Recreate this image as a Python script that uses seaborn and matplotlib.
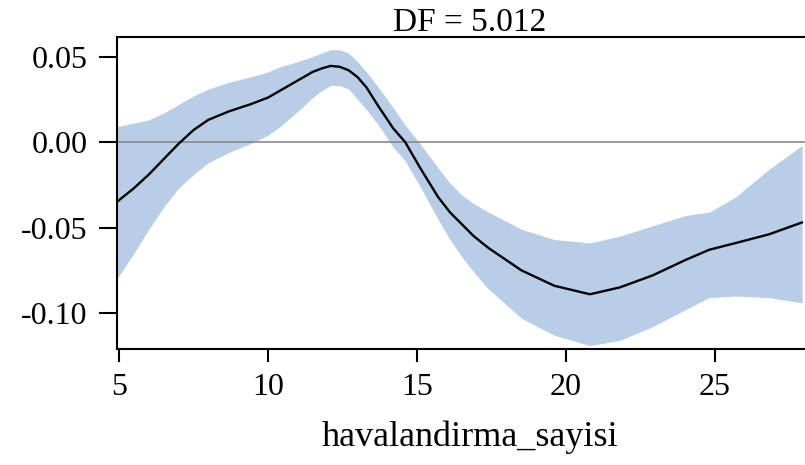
import numpy as np
import pandas as pd
import seaborn as sns
import matplotlib
matplotlib.use("Agg")
import matplotlib.pyplot as plt

# Data
x_vals = [4.93, 5.5, 6.0, 6.5, 7.0, 7.5, 8.0, 8.7, 9.4, 10.0, 10.4, 11.0, 11.5,
          11.8, 12.1, 12.4, 12.7, 13.0, 13.3, 13.7, 14.2, 14.6, 15.1, 15.7,
          16.1, 16.5, 16.9, 17.4, 18.5, 19.6, 20.8, 21.8, 22.9, 24.0, 24.8,
          25.7, 26.8, 27.92]
effect = [-0.035, -0.027, -0.019, -0.010, -0.001, 0.007, 0.013, 0.018, 0.022,
          0.026, 0.030, 0.036, 0.041, 0.043, 0.0445, 0.044, 0.042, 0.038,
          0.032, 0.021, 0.008, 0.000, -0.015, -0.032, -0.041, -0.048, -0.055,
          -0.062, -0.075, -0.084, -0.089, -0.085, -0.078, -0.069, -0.063,
          -0.059, -0.054, -0.047]
upper = [0.009, 0.011, 0.013, 0.017, 0.022, 0.027, 0.031, 0.035, 0.038, 0.041,
         0.044, 0.047, 0.050, 0.052, 0.054, 0.054, 0.052, 0.047, 0.041, 0.032,
         0.020, 0.010, -0.001, -0.015, -0.024, -0.031, -0.036, -0.041, -0.051,
         -0.057, -0.059, -0.055, -0.049, -0.043, -0.041, -0.032, -0.016, -0.002]
lower = [-0.080, -0.065, -0.051, -0.038, -0.027, -0.019, -0.012, -0.006,
         -0.001, 0.004, 0.009, 0.018, 0.026, 0.030, 0.033, 0.033, 0.031, 0.025,
         0.019, 0.010, -0.003, -0.011, -0.026, -0.045, -0.057, -0.067, -0.076,
         -0.086, -0.103, -0.113, -0.119, -0.116, -0.108, -0.098, -0.091,
         -0.090, -0.091, -0.094]
x_ticks = [5, 10, 15, 20, 25]
y_ticks = [-0.10, -0.05, 0.00, 0.05]
y_tick_labels = ["-0.10", "-0.05", "0.00", "0.05"]
title_text = "DF = 5.012"
x_label = "havalandirma_sayisi"

df = pd.DataFrame({"x": x_vals, "effect": effect, "upper": upper, "lower": lower})

sns.set_theme(style="white")
plt.rcParams["font.family"] = ["Liberation Serif", "DejaVu Serif"]

fig = plt.figure(figsize=(8.05, 4.65), dpi=100)
ax = fig.add_axes([117 / 805, 116 / 465, 706 / 805, 312 / 465])

ax.fill_between(df["x"], df["lower"], df["upper"], color="#b8cee7", linewidth=0, zorder=1)
ax.axhline(0, color="#8a8a8a", linewidth=1.2, zorder=2)
sns.lineplot(data=df, x="x", y="effect", ax=ax, color="black", linewidth=1.7, zorder=3)

ax.set_xlim(4.933, 28.62)
ax.set_ylim(-0.121, 0.0614)
ax.set_xticks(x_ticks)
ax.set_xticklabels([str(t) for t in x_ticks])
ax.set_yticks(y_ticks)
ax.set_yticklabels(y_tick_labels)

for side in ["left", "top", "bottom"]:
    ax.spines[side].set_visible(True)
    ax.spines[side].set_color("black")
    ax.spines[side].set_linewidth(1.5)
ax.spines["right"].set_visible(False)

ax.tick_params(axis="y", direction="out", length=13, width=1.5, pad=8,
               labelsize=23, colors="black", left=True)
ax.tick_params(axis="x", direction="out", length=9.5, width=1.5, pad=8,
               labelsize=23, colors="black", bottom=True)

ax.set_title(title_text, fontsize=24, pad=4, color="black")
ax.set_xlabel(x_label, fontsize=26, labelpad=13, color="black")
ax.set_ylabel("")

fig.savefig("out.png", dpi=100)
